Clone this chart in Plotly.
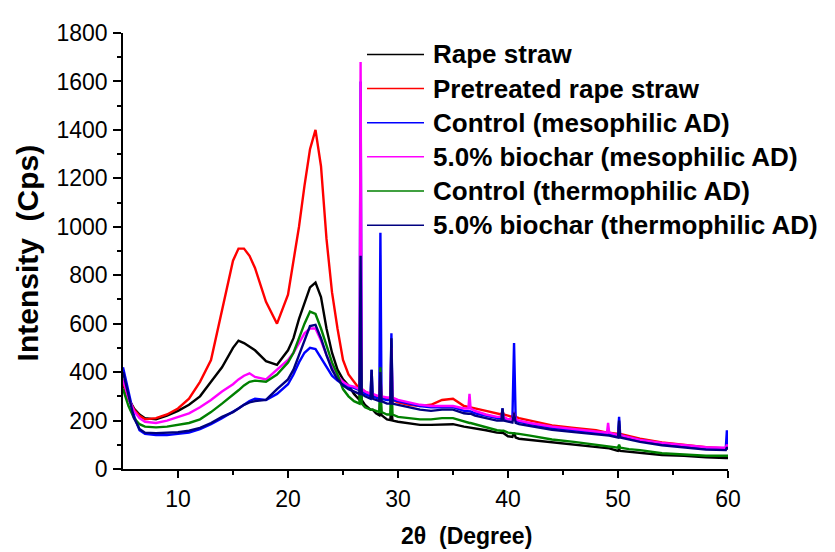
import plotly.graph_objects as go

# ---- data ----
two_theta = [
    5.0, 5.5, 6.0, 6.5, 7.0, 8.0, 9.0, 10.0, 11.0, 12.0, 13.0, 14.0,
    15.0, 15.5, 16.0, 16.5, 17.0, 18.0, 19.0, 20.0, 20.5, 21.0, 21.5, 22.0, 22.5, 23.0, 23.5, 24.0, 24.5, 25.0, 25.5,
    26.0, 26.5, 26.6, 26.7, 27.0, 27.5, 27.6, 27.7, 28.0, 28.3, 28.4, 28.5, 29.0, 29.3, 29.4, 29.5, 30.0,
    31, 32, 33, 34, 35, 36, 36.4, 36.5, 36.6, 37, 38, 39, 39.4, 39.5, 39.6, 40.0, 40.4, 40.55, 40.7, 41.0,
    42, 44, 46, 48, 49.0, 49.1, 49.2, 50.0, 50.1, 50.2, 51, 52, 54, 56, 58, 59.8, 59.9, 60.0,
]

rape_straw = [
    350, 290, 250, 225, 210, 205, 220, 240, 265, 300, 360, 420,
    500, 530, 520, 505, 490, 445, 430, 490, 540, 620, 690, 750, 770, 710, 580, 480, 410, 370, 345,
    310, 285, 400, 285, 265, 245, 245, 245, 230, 222, 290, 222, 205, 202, 260, 200, 195,
    190, 182, 182, 185, 185, 175, 172, 172, 172, 168, 160, 150, 148, 148, 148, 135, 132, 150, 130, 125,
    120, 110, 100, 90, 85, 85, 85, 75, 80, 75, 72, 68, 58, 55, 48, 45, 45, 45,
]

pretreated = [
    360, 290, 245, 220, 205, 210, 225, 250, 290, 360, 450, 660,
    860, 910, 910, 880, 830, 690, 600, 720, 860, 1000, 1170, 1320, 1400, 1250, 950, 730, 580, 450, 390,
    360, 330, 420, 330, 320, 310, 310, 305, 300, 295, 340, 295, 290, 285, 320, 285, 275,
    265, 260, 265, 285, 290, 260, 255, 255, 255, 250, 240, 230, 225, 240, 225, 220, 215, 235, 215, 210,
    200, 180, 170, 160, 150, 150, 150, 145, 150, 145, 135, 125, 110, 100, 90, 85, 85, 85,
]

control_meso = [
    420, 320, 220, 160, 145, 140, 140, 145, 150, 165, 185, 210,
    235, 250, 265, 280, 290, 285, 310, 350, 390, 440, 480, 500, 495, 460, 420, 385, 365, 350, 340,
    335, 325, 1600, 325, 310, 300, 410, 300, 295, 290, 975, 290, 285, 285, 560, 285, 280,
    270, 260, 255, 255, 255, 240, 238, 238, 238, 230, 220, 210, 210, 250, 210, 205, 205, 520, 200, 195,
    185, 170, 160, 150, 145, 145, 145, 140, 215, 140, 130, 120, 105, 95, 85, 85, 160, 90,
]

biochar_meso = [
    370, 290, 240, 210, 195, 190, 200, 215, 230, 255, 285, 320,
    350, 370, 385, 395, 380, 370, 410, 450, 480, 520, 560, 580, 580, 530, 470, 420, 385, 360, 345,
    340, 330, 1680, 330, 320, 310, 320, 310, 305, 300, 400, 300, 295, 295, 500, 295, 285,
    275, 265, 260, 260, 260, 250, 250, 310, 250, 240, 225, 215, 215, 230, 215, 205, 205, 230, 205, 200,
    190, 175, 165, 155, 150, 190, 150, 140, 170, 140, 130, 120, 108, 98, 90, 88, 100, 90,
]

control_thermo = [
    330, 260, 210, 185, 175, 172, 175, 182, 190, 205, 235, 270,
    305, 325, 345, 360, 365, 360, 390, 440, 480, 540, 600, 650, 640, 580, 510, 440, 390, 330, 300,
    280, 270, 560, 270, 255, 245, 245, 245, 240, 235, 420, 235, 225, 225, 400, 225, 215,
    210, 205, 205, 210, 210, 195, 190, 190, 190, 185, 170, 160, 158, 158, 158, 150, 148, 148, 148, 145,
    138, 122, 112, 100, 95, 95, 95, 88, 100, 88, 82, 78, 65, 60, 55, 55, 55, 55,
]

biochar_thermo = [
    400, 300, 210, 165, 150, 148, 150, 152, 158, 170, 190, 215,
    235, 250, 265, 275, 280, 285, 330, 370, 410, 470, 530, 590, 595, 540, 470, 410, 370, 345, 330,
    320, 310, 880, 310, 300, 290, 410, 290, 285, 280, 400, 280, 270, 270, 540, 270, 265,
    255, 245, 240, 245, 245, 230, 228, 228, 228, 220, 210, 200, 200, 250, 200, 195, 192, 230, 190, 185,
    178, 162, 152, 142, 138, 138, 138, 130, 200, 130, 122, 112, 98, 90, 80, 78, 90, 80,
]

series_names = [
    "Rape straw",
    "Pretreated rape straw",
    "Control (mesophilic AD)",
    "5.0% biochar (mesophilic AD)",
    "Control (thermophilic AD)",
    "5.0% biochar (thermophilic AD)",
]
series_values = [rape_straw, pretreated, control_meso, biochar_meso, control_thermo, biochar_thermo]
series_colors = ["#000000", "#FF0000", "#0000FF", "#FF00FF", "#008000", "#000080"]

x_ticks = [10, 20, 30, 40, 50, 60]
y_ticks = [0, 200, 400, 600, 800, 1000, 1200, 1400, 1600, 1800]

for v in series_values:
    assert len(v) == len(two_theta)

FONT = "Liberation Sans, Arial, sans-serif"

fig = go.Figure()
for name, vals, col in zip(series_names, series_values, series_colors):
    fig.add_trace(go.Scatter(
        x=two_theta, y=vals, mode="lines", name=name,
        line=dict(color=col, width=2.4), showlegend=False,
    ))

# page body has an 8 px margin; figure coordinates are offset accordingly
OFF = 8
L, R, T, B = 123 - OFF, 728 - OFF, 22 - OFF, 469 - OFF
W, H = 835 - OFF, 552 - OFF
pw, ph = R - L, B - T

def px(xp):  # reference page pixel -> paper x
    return (xp - OFF - L) / pw

def py(yp):  # reference page pixel -> paper y
    return (B - (yp - OFF)) / ph

# manual legend
shapes = []
annotations = []
row_y = [44, 79, 114, 149, 184, 219]
for name, col, yy in zip(series_names, series_colors, row_y):
    shapes.append(dict(type="line", xref="paper", yref="paper",
                       x0=px(367), x1=px(424), y0=py(yy), y1=py(yy),
                       line=dict(color=col, width=1.5)))
    annotations.append(dict(xref="paper", yref="paper", x=px(431), y=py(yy),
                            xanchor="left", yanchor="middle", showarrow=False,
                            text="<b>%s</b>" % name,
                            font=dict(family=FONT, size=26, color="black")))

# axis titles
annotations.append(dict(xref="paper", yref="paper", x=px(466), y=py(538),
                        xanchor="center", yanchor="middle", showarrow=False,
                        text="<b>2θ  (Degree)</b>",
                        font=dict(family=FONT, size=23, color="black")))
annotations.append(dict(xref="paper", yref="paper", x=px(27), y=py(248),
                        xanchor="center", yanchor="middle", showarrow=False,
                        textangle=-90,
                        text="<b>Intensity  (Cps)</b>",
                        font=dict(family=FONT, size=30, color="black")))

fig.update_layout(
    width=W, height=H,
    margin=dict(l=L, r=W - R, t=T, b=H - B, pad=0),
    paper_bgcolor="white", plot_bgcolor="white",
    showlegend=False,
    shapes=shapes, annotations=annotations,
    font=dict(family=FONT, color="black"),
)
fig.update_xaxes(
    range=[5, 60], tickvals=x_ticks, ticks="outside", ticklen=7, tickwidth=1.5,
    tickcolor="black", showline=True, linecolor="black", linewidth=1.5,
    showgrid=False, zeroline=False, tickfont=dict(family=FONT, size=23, color="black"),
    minor=dict(tickvals=[15, 25, 35, 45, 55], ticks="outside", ticklen=4, tickwidth=1.5, tickcolor="black"),
    ticklabelstandoff=2,
)
fig.update_yaxes(
    range=[0, 1800], tickvals=y_ticks, ticks="outside", ticklen=8, tickwidth=1.5,
    tickcolor="black", showline=True, linecolor="black", linewidth=1.5,
    showgrid=False, zeroline=False, tickfont=dict(family=FONT, size=23, color="black"),
    minor=dict(tickvals=[100, 300, 500, 700, 900, 1100, 1300, 1500, 1700], ticks="outside",
               ticklen=4, tickwidth=1.5, tickcolor="black"),
    ticklabelstandoff=1,
)

fig.write_html("out.html")
